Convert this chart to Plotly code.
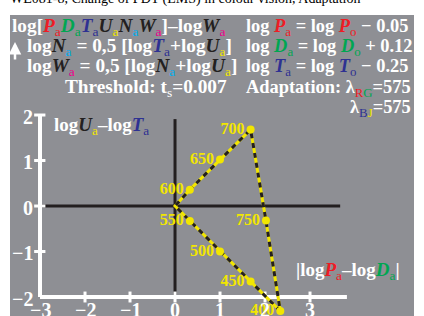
import plotly.graph_objects as go

# ---- data ----
wavelengths = [400, 450, 500, 550, 575, 600, 650, 700, 750]
x_vals = [2.34, 1.68, 1.00, 0.33, 0.00, 0.33, 1.00, 1.68, 2.02]
y_vals = [-2.31, -1.66, -1.00, -0.33, 0.00, 0.36, 1.02, 1.68, -0.32]
x_ticks = [-3, -2, -1, 0, 1, 2, 3]
y_ticks = [-2, -1, 0, 1, 2]

# ---- style ----
GRAY = "#8e8f94"
RED = "#ee1c25"
GREEN = "#00a651"
BLUE = "#2e3192"
YEL = "#f2e600"
CYAN = "#00aeef"
MAG = "#ec008c"
BLK = "#231f20"
WHITE = "#ffffff"
FONT = "Liberation Serif"

PL, PT, PW, PH = 10, 15, 404, 301
XR = [-3.667, -3.667 + PW / 45.0]
YR = [4.198 - PH / 45.5, 4.198]


def px(x):
    return (x - PL) / PW


def py(y):
    return (PT + PH - y) / PH


def c(t, col, b=True, i=False):
    s = t
    if i:
        s = f"<i>{s}</i>"
    if b:
        s = f"<b>{s}</b>"
    return f"<span style='color:{col}'>{s}</span>"


def sub(t, col):
    return f"<sub><span style='color:{col}'>{t}</span></sub>"


def W(t):
    return f"<b>{t}</b>"


fig = go.Figure()

# closed curve through the wavelength points
lx = x_vals + [x_vals[0]]
ly = y_vals + [y_vals[0]]
fig.add_trace(go.Scatter(x=lx, y=ly, mode="lines",
                         line=dict(color=YEL, width=3), hoverinfo="skip", cliponaxis=False))
fig.add_trace(go.Scatter(x=lx, y=ly, mode="lines",
                         line=dict(color=BLK, width=3, dash="5px,5px"), hoverinfo="skip", cliponaxis=False))
mx = [x for x, w in zip(x_vals, wavelengths) if w != 575]
my = [y for y, w in zip(y_vals, wavelengths) if w != 575]
mt = [str(w) for w in wavelengths if w != 575]
fig.add_trace(go.Scatter(x=mx, y=my, mode="markers+text", text=mt, textposition="middle left",
                         textfont=dict(family=FONT, size=16, color=YEL, weight="bold"),
                         marker=dict(color=YEL, size=8), hoverinfo="skip", cliponaxis=False))

shapes = []
# black zero axes
shapes.append(dict(type="line", x0=-3, x1=3.67, y0=0, y1=0, line=dict(color=BLK, width=3), layer="below"))
shapes.append(dict(type="line", x0=0, x1=0, y0=-2, y1=1.91, line=dict(color=BLK, width=3), layer="below"))
# white frame axes
shapes.append(dict(type="line", x0=-3, x1=3.82, y0=-2, y1=-2, line=dict(color=WHITE, width=4), layer="below"))
shapes.append(dict(type="line", x0=-3, x1=-3, y0=-2, y1=2, line=dict(color=WHITE, width=4), layer="below"))
for t in x_ticks[1:]:
    shapes.append(dict(type="line", x0=t, x1=t, y0=-2 - 0.12, y1=-2 + 0.12,
                       line=dict(color=WHITE, width=3), layer="below"))
for t in y_ticks[1:]:
    shapes.append(dict(type="line", x0=-3 - 0.13, x1=-3 + 0.12, y0=t, y1=t,
                       line=dict(color=WHITE, width=3), layer="below"))

ann = []
for t in x_ticks:
    ann.append(dict(x=t, y=-2.29, xref="x", yref="y", text=W(str(t).replace("-", "−")),
                    showarrow=False, xanchor="center", yanchor="middle",
                    font=dict(family=FONT, size=20, color=WHITE)))
for t in y_ticks:
    ann.append(dict(x=-3.11, y=t - 0.04, xref="x", yref="y", text=W(str(t).replace("-", "−")),
                    showarrow=False, xanchor="right", yanchor="middle",
                    font=dict(family=FONT, size=20, color=WHITE)))

# axis labels inside plot
ann.append(dict(x=px(52), y=py(126), xref="paper", yref="paper", xanchor="left", yanchor="middle",
                showarrow=False, font=dict(family=FONT, size=19, color=WHITE),
                text=W("log") + c("U", BLK, i=True) + sub("a", YEL) + W("–log") + c("T", BLUE, i=True) + sub("a", BLUE)))
ann.append(dict(x=px(402), y=py(271), xref="paper", yref="paper", xanchor="right", yanchor="middle",
                showarrow=False, font=dict(family=FONT, size=19, color=WHITE),
                text=W("|log") + c("P", RED, i=True) + sub("a", RED) + W("–log") + c("D", GREEN, i=True) + sub("a", GREEN) + W("|")))

hdrL = dict(family=FONT, size=19.3, color=WHITE)
hdrR = dict(family=FONT, size=18.4, color=WHITE)
line1 = (W("log[") + c("P", RED, i=True) + sub("a", RED) + c("D", GREEN, i=True) + sub("a", GREEN)
         + c("T", BLUE, i=True) + sub("a", BLUE) + c("U", BLK, i=True) + sub("a", YEL)
         + c("N", BLK, i=True) + sub("a", CYAN) + c("W", BLK, i=True) + sub("a", MAG)
         + W("]–log") + c("W", BLK, i=True) + sub("a", MAG))
line2 = (W("log") + c("N", BLK, i=True) + sub("a", CYAN) + W(" = 0,5 [log") + c("T", BLUE, i=True)
         + sub("a", BLUE) + W("+log") + c("U", BLK, i=True) + sub("a", YEL) + W("]"))
line3 = (W("log") + c("W", BLK, i=True) + sub("a", MAG) + W(" = 0,5 [log") + c("N", BLK, i=True)
         + sub("a", CYAN) + W("+log") + c("U", BLK, i=True) + sub("a", YEL) + W("]"))
line4 = W("Threshold: t") + sub("s", WHITE) + W("=0.007")
r1 = W("log ") + c("P", RED, i=True) + sub("a", RED) + W(" = log ") + c("P", RED, i=True) + sub("o", RED) + W(" − 0.05")
r2 = W("log ") + c("D", GREEN, i=True) + sub("a", GREEN) + W(" = log ") + c("D", GREEN, i=True) + sub("o", GREEN) + W(" + 0.12")
r3 = W("log ") + c("T", BLUE, i=True) + sub("a", BLUE) + W(" = log ") + c("T", BLUE, i=True) + sub("o", BLUE) + W(" − 0.25")
r4 = W("Adaptation: λ") + sub("R", RED) + sub("G", GREEN) + W("=575")
r5 = W("λ") + sub("B", BLUE) + sub("J", YEL) + W("=575")

for txt, x, y, xa, f in [(line1, 10, 27, "left", hdrL), (line2, 25, 47, "left", hdrL),
                         (line3, 25, 67, "left", hdrL), (line4, 229, 88, "right", hdrL),
                         (r1, 244, 27, "left", hdrR), (r2, 244, 47, "left", hdrR),
                         (r3, 244, 67, "left", hdrR), (r4, 244, 88, "left", hdrR),
                         (r5, 413, 108, "right", hdrR)]:
    ann.append(dict(x=px(x), y=py(y), xref="paper", yref="paper", xanchor=xa, yanchor="middle",
                    showarrow=False, font=f, text=txt))

# little up arrow
ann.append(dict(x=px(15), y=py(42), xref="paper", yref="paper", ax=0, ay=19, axref="pixel", ayref="pixel",
                showarrow=True, arrowhead=2, arrowsize=1, arrowwidth=2.5, arrowcolor=WHITE, text=""))

# clipped page title
ann.append(dict(x=px(8), y=py(-1), xref="paper", yref="paper", xanchor="left", yanchor="middle",
                showarrow=False, font=dict(family=FONT, size=14, color="#000000"),
                text="WE081-8, Change of PDT (LMS) in colour vision, Adaptation"))

fig.update_layout(
    width=424, height=316,
    margin=dict(l=PL, r=424 - PL - PW, t=PT, b=316 - PT - PH, pad=0),
    paper_bgcolor="white", plot_bgcolor=GRAY,
    showlegend=False,
    xaxis=dict(range=XR, visible=False, fixedrange=True),
    yaxis=dict(range=YR, visible=False, fixedrange=True),
    shapes=shapes, annotations=ann,
)

fig.write_html("out.html", config={"displayModeBar": False},
               post_script="document.body.style.margin='0px';document.body.style.overflow='hidden';")
